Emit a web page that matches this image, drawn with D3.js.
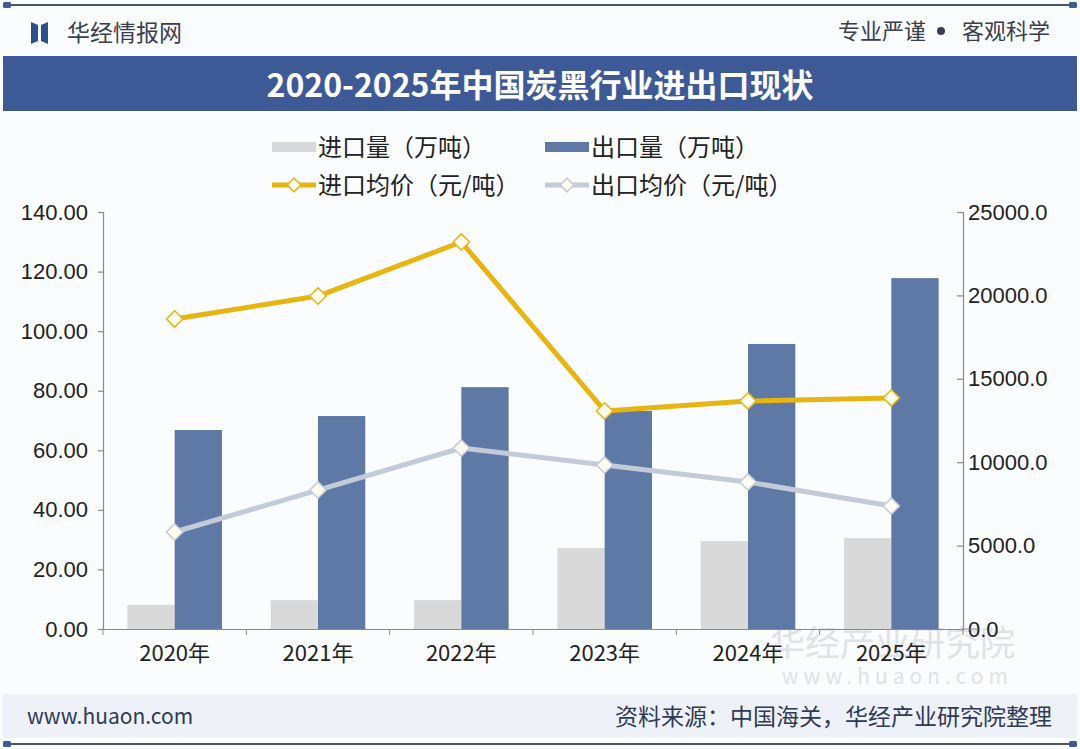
<!DOCTYPE html>
<html>
<head>
<meta charset="utf-8">
<script src="https://cdn.jsdelivr.net/npm/d3@7"></script>
<style>
  body { margin: 0; background: #fff; }
  svg { display: block; font-family: "Noto Sans CJK SC", "Noto Sans", sans-serif; }
</style>
</head>
<body>
<div id="chart"></div>
<script>
const years = ["2020年", "2021年", "2022年", "2023年", "2024年", "2025年"];
const importVolume = [8.1, 9.7, 9.7, 27.2, 29.5, 30.5];
const exportVolume = [66.8, 71.5, 81.2, 73.2, 95.7, 117.8];
const importPrice = [18590, 19960, 23200, 13070, 13670, 13850];
const exportPrice = [5815, 8330, 10850, 9830, 8810, 7370];
const leftTicks = [0, 20, 40, 60, 80, 100, 120, 140];
const rightTicks = [0, 5000, 10000, 15000, 20000, 25000];

const width = 1080, height = 749;
const margin = { left: 103, right: 117, top: 212, bottom: 120 };
const plotW = width - margin.left - margin.right;
const plotH = height - margin.top - margin.bottom;

const svg = d3.select("#chart").append("svg")
    .attr("width", width)
    .attr("height", height);

svg.append("rect").attr("width", width).attr("height", height).attr("fill", "#fbfcfe");

// top and bottom frame lines
[5, 744].forEach(y => {
    svg.append("line").attr("x1", 6).attr("x2", 1074).attr("y1", y).attr("y2", y)
        .attr("stroke", "#4a5470").attr("stroke-width", 2);
    svg.append("rect").attr("x", 3).attr("y", y - 3).attr("width", 8).attr("height", 6).attr("rx", 1.5).attr("fill", "#3d5a96");
    svg.append("rect").attr("x", 1069).attr("y", y - 3).attr("width", 8).attr("height", 6).attr("rx", 1.5).attr("fill", "#3d5a96");
});

// header logo
const logo = svg.append("g").attr("transform", "translate(31,22)");
logo.append("path").attr("d", "M0,0 L7,3 L7,19 L0,22 Z").attr("fill", "#2f4f8a");
logo.append("path").attr("d", "M17,0 L10,3 L10,19 L17,22 Z").attr("fill", "#2f4f8a");
svg.append("text").attr("x", 67).attr("y", 41).attr("font-size", 23).attr("fill", "#3a3f4f").text("华经情报网");
const tag = svg.append("g").attr("font-size", 22).attr("fill", "#3a3f4f");
tag.append("text").attr("x", 838).attr("y", 39).text("专业严谨");
tag.append("circle").attr("cx", 941).attr("cy", 31).attr("r", 4).attr("fill", "#3a3f4f");
tag.append("text").attr("x", 1050).attr("y", 39).attr("text-anchor", "end").text("客观科学");

// title banner
svg.append("rect").attr("x", 3).attr("y", 56).attr("width", 1074).attr("height", 55).attr("fill", "#3d5a96");
svg.append("text").attr("x", 540).attr("y", 97).attr("text-anchor", "middle")
    .attr("font-size", 32).attr("font-weight", "bold").attr("fill", "#fff")
    .text("2020-2025年中国炭黑行业进出口现状");

// footer band
svg.append("rect").attr("x", 3).attr("y", 694).attr("width", 1074).attr("height", 44).attr("fill", "#eef1f7");
svg.append("text").attr("x", 27).attr("y", 724).attr("font-size", 21).attr("fill", "#2f3a55").text("www.huaon.com");
svg.append("text").attr("x", 1052).attr("y", 725).attr("text-anchor", "end").attr("font-size", 23).attr("fill", "#2f3a55").text("资料来源：中国海关，华经产业研究院整理");

// faint watermark
svg.append("text").attr("x", 1015).attr("y", 656).attr("text-anchor", "end").attr("font-size", 35)
    .attr("fill", "#dfe2e7").text("华经产业研究院");
svg.append("text").attr("x", 1013).attr("y", 684).attr("text-anchor", "end").attr("font-size", 21)
    .attr("letter-spacing", 5).attr("fill", "#dfe2e7").text("www.huaon.com");

const g = svg.append("g").attr("transform", `translate(${margin.left},${margin.top})`);

const x = d3.scaleBand().domain(years).range([0, plotW]);
const xSub = d3.scaleBand().domain(["import", "export"]).range([x.bandwidth() * 0.17, x.bandwidth() * 0.83]);
const yL = d3.scaleLinear().domain([0, 140]).range([plotH, 0]);
const yR = d3.scaleLinear().domain([0, 25000]).range([plotH, 0]);

// bars
g.selectAll(".imp").data(importVolume).join("rect")
    .attr("x", (d, i) => x(years[i]) + xSub("import"))
    .attr("y", d => yL(d))
    .attr("width", xSub.bandwidth())
    .attr("height", d => plotH - yL(d))
    .attr("fill", "#d9d9d9");
g.selectAll(".exp").data(exportVolume).join("rect")
    .attr("x", (d, i) => x(years[i]) + xSub("export"))
    .attr("y", d => yL(d))
    .attr("width", xSub.bandwidth())
    .attr("height", d => plotH - yL(d))
    .attr("fill", "#5e79a6");

// axes
const axisColor = "#8a8a8a";
const leftAxis = g.append("g")
    .call(d3.axisLeft(yL).tickValues(leftTicks).tickFormat(d3.format(".2f")).tickSize(5).tickPadding(10));
const rightAxis = g.append("g").attr("transform", `translate(${plotW},0)`)
    .call(d3.axisRight(yR).tickValues(rightTicks).tickFormat(d3.format(".1f")).tickSize(-6).tickPadding(10));
rightAxis.selectAll(".tick text").attr("x", 5);
const bottomAxis = g.append("g").attr("transform", `translate(0,${plotH})`)
    .call(d3.axisBottom(x).tickSize(0).tickPadding(16));
// boundary ticks
g.append("g").selectAll("line").data(d3.range(years.length + 1)).join("line")
    .attr("x1", i => i * x.step()).attr("x2", i => i * x.step())
    .attr("y1", plotH).attr("y2", plotH + 6)
    .attr("stroke", axisColor);
g.append("line").attr("x1", plotW).attr("x2", plotW + 14).attr("y1", plotH).attr("y2", plotH).attr("stroke", axisColor);

[leftAxis, rightAxis, bottomAxis].forEach(a => {
    a.selectAll("path, line").attr("stroke", axisColor).attr("stroke-width", 1.2);
    a.selectAll("text").attr("font-size", 22).attr("fill", "#222")
        .attr("font-family", "'Liberation Sans', Arial, sans-serif");
});
bottomAxis.selectAll("text").attr("font-family", "'Noto Sans CJK SC', sans-serif").attr("font-size", 22);

// lines
const cx = i => x(years[i]) + x.bandwidth() / 2;
function drawLine(values, color) {
    const line = d3.line().x((d, i) => cx(i)).y(d => yR(d));
    g.append("path").datum(values).attr("d", line)
        .attr("fill", "none").attr("stroke", color).attr("stroke-width", 5).attr("stroke-linejoin", "round");
    g.selectAll(null).data(values).join("path")
        .attr("transform", (d, i) => `translate(${cx(i)},${yR(d)})`)
        .attr("d", d3.symbol(d3.symbolDiamond2, 170))
        .attr("fill", "#fffdf2").attr("stroke", color).attr("stroke-width", 1.5);
}
drawLine(exportPrice, "#c4cbd8");
drawLine(importPrice, "#e6b512");

// legend
const legend = svg.append("g").attr("font-size", 24).attr("fill", "#222");
const legendItems = [
    { label: "进口量（万吨）", type: "bar", color: "#d9d9d9", x: 272, y: 147 },
    { label: "出口量（万吨）", type: "bar", color: "#5e79a6", x: 545, y: 147 },
    { label: "进口均价（元/吨）", type: "line", color: "#e6b512", x: 272, y: 185 },
    { label: "出口均价（元/吨）", type: "line", color: "#c4cbd8", x: 545, y: 185 }
];
legendItems.forEach(it => {
    if (it.type === "bar") {
        legend.append("rect").attr("x", it.x).attr("y", it.y - 5).attr("width", 44).attr("height", 10).attr("fill", it.color);
    } else {
        legend.append("line").attr("x1", it.x).attr("x2", it.x + 44).attr("y1", it.y).attr("y2", it.y)
            .attr("stroke", it.color).attr("stroke-width", 5);
        legend.append("path").attr("transform", `translate(${it.x + 22},${it.y})`)
            .attr("d", d3.symbol(d3.symbolDiamond2, 120))
            .attr("fill", "#fffdf2").attr("stroke", it.color).attr("stroke-width", 1.5);
    }
    legend.append("text").attr("x", it.x + 46).attr("y", it.y + 9).text(it.label);
});
</script>
</body>
</html>
